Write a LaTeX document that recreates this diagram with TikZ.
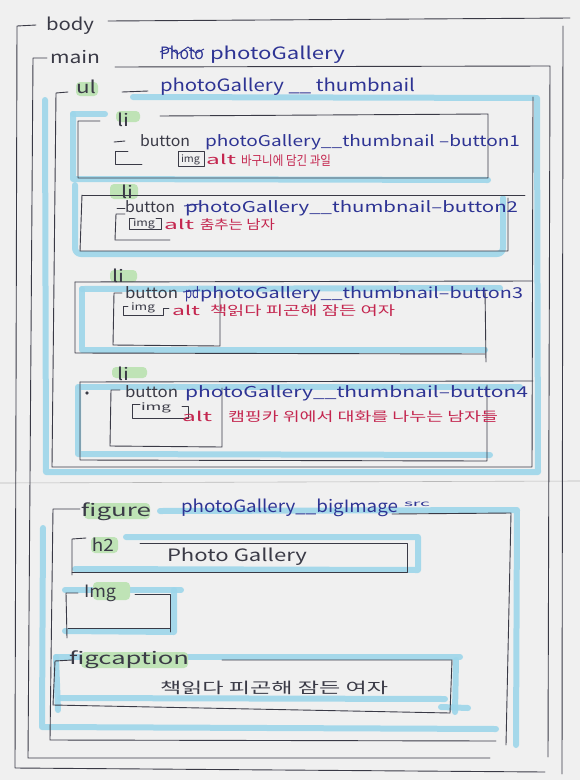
\documentclass[tikz,border=0pt]{standalone}
\usepackage{fontspec}
\setmainfont{Noto Sans CJK KR}
\usepackage{graphicx}
\definecolor{paper}{HTML}{F0F0F0}
\definecolor{pen}{HTML}{3A3A46}
\definecolor{ink}{HTML}{2E3494}
\definecolor{redink}{HTML}{C4264F}
\definecolor{marker}{HTML}{9DD6EA}
\definecolor{greenmark}{HTML}{BFE3B6}
% set a text to a given width, keeping its natural height
\newcommand\fitw[2]{\resizebox{#1pt}{\height}{#2}}
\begin{document}
\begin{tikzpicture}[x=1pt,y=-1pt,
  pen/.style={draw=pen, line width=0.9pt, line join=round, line cap=round},
  hl/.style={draw=marker, line width=6pt, line cap=round, line join=round, opacity=0.9},
  gm/.style={fill=greenmark, rounded corners=4pt, draw=none},
  txt/.style={anchor=base west, inner sep=0pt, outer sep=0pt},
  tag/.style={txt, text=pen, font=\fontsize{17}{17}\selectfont},
  btn/.style={txt, text=pen, font=\fontsize{15}{15}\selectfont},
  cls/.style={txt, text=ink, font=\fontsize{17}{17}\selectfont},
  bcls/.style={txt, text=ink, font=\fontsize{15}{15}\selectfont},
  alt/.style={txt, text=redink, font=\fontsize{13}{13}\selectfont},
  imgtag/.style={txt, text=pen, font=\fontsize{10}{10}\selectfont},
]
\fill[paper] (0,0) rectangle (580,780);
\useasboundingbox (0,0) rectangle (580,780);
% seam between the two sheets
\draw[gray!55, line width=0.6pt] (0,483) -- (580,481);

% ---------- marker strokes ----------
% ul
\draw[hl] (133,97) -- (537,98) -- (538,472) -- (46,472) -- (45,100);
% li 1
\draw[hl] (73,114) -- (105,114);
\draw[hl] (73,114) -- (73,179) -- (488,180);
% li 2
\draw[hl, rounded corners=6pt] (75,185) -- (75,254) -- (503,254) -- (503,198);
% li 3
\draw[hl] (82,289) -- (500,288);
\draw[hl] (82,289) -- (82,350) -- (485,350);
% li 4
\draw[hl] (80,387) -- (520,387);
\draw[hl] (78,387) -- (78,454) -- (490,455);
% figure
\draw[hl] (160,511) -- (517,510) -- (516,745);
\draw[hl] (43,528) -- (42,727) -- (496,729);
% h2
\draw[hl] (126,537) -- (418,537) -- (418,570) -- (75,569);
% img
\draw[hl] (65,590) -- (181,590);
\draw[hl] (174,590) -- (174,632) -- (65,631);
% figcaption
\draw[hl] (56,657) -- (460,657);
\draw[hl] (56,657) -- (58,710);
\draw[hl] (60,698) -- (445,699);
\draw[hl] (441,707) -- (468,708);
\draw[hl] (456,660) -- (455,712);

% ---------- green highlights ----------
\fill[gm] (76,82) rectangle (98,96);
\fill[gm] (116,111) rectangle (140,122);
\fill[gm] (110,184) rectangle (138,199);
\fill[gm] (110,270) rectangle (137,282);
\fill[gm] (112,367) rectangle (147,378);
\fill[gm] (84,503) rectangle (150,519);
\fill[gm] (91,537) rectangle (118,553);
\fill[gm] (93,582) rectangle (130,600);
\fill[gm] (81,652) rectangle (188,668);

% ---------- pen lines ----------
% body
\draw[pen] (36,25) -- (17,26) -- (15,768) -- (545,772);
\draw[pen] (108,21) -- (570,18);
\draw[pen] (563,26) -- (562,774);
% main
\draw[pen] (47,58) -- (33,58) -- (28,758) -- (490,758);
\draw[pen] (115,67) -- (550,66) -- (548,757);
% ul
\draw[pen] (68,92) -- (56,93) -- (52,467) -- (532,467) -- (533,97);
\draw[pen] (122,92) -- (148,91);
% li 1
\draw[pen] (160,116) -- (488,114) -- (488,178) -- (78,178) -- (78,121) -- (100,121);
\draw[pen] (114,142) -- (125,141);
\draw[pen] (128,151) -- (115,151) -- (115,164) -- (142,164);
\draw[pen] (178,151) rectangle (204,166);
% li 2
\draw[pen] (82,195) -- (525,195);
\draw[pen] (82,195) -- (80,251) -- (508,251) -- (508,198);
\draw[pen] (117,208) -- (125,208);
\draw[pen] (125,214) -- (116,214) -- (115,240) -- (170,240);
\draw[pen] (134,218) -- (129,218) -- (129,229) -- (161,229) -- (161,218) -- (156,218);
% li 3
\draw[pen] (75,282) -- (533,281);
\draw[pen] (75,282) -- (75,353) -- (485,354);
\draw[pen] (485,290) -- (486,362);
\draw[pen] (122,293) -- (114,293) -- (113,345) -- (220,346) -- (220,292);
\draw[pen] (128,306) -- (123,306) -- (123,315) -- (163,315) -- (163,308) -- (169,308);
% li 4
\draw[pen] (80,382) -- (533,381);
\draw[pen] (80,382) -- (80,460) -- (487,461) -- (487,385);
\fill[pen] (87,393) circle (1.2);
\draw[pen] (120,390) -- (111,390) -- (110,446) -- (222,447) -- (222,388);
\draw[pen] (140,404) -- (132,404) -- (132,418) -- (188,418) -- (188,406) -- (182,406);
% figure
\draw[pen] (80,509) -- (53,509) -- (50,740) -- (496,741);
\draw[pen] (392,514) -- (511,513) -- (506,745);
% h2
\draw[pen] (86,538) -- (72,539) -- (72,575);
\draw[pen] (140,543) -- (407,543) -- (407,572) -- (72,572);
% img
\draw[pen] (78,593) -- (66,593) -- (67,638);
\draw[pen] (135,594) -- (170,594) -- (170,632);
\draw[pen] (68,628) -- (170,628);
% figcaption
\draw[pen] (222,660) -- (452,660) -- (450,713);
\draw[pen] (72,660) -- (55,661) -- (53,705) -- (450,713);

% ---------- texts ----------
\node[tag] (tBody) at (46,30) {\fitw{48}{body}};
\node[tag] (tMain) at (50,63) {\fitw{50}{main}};
\node[cls] (tMainOld) at (160,59) {\fitw{44}{Photo}};
\node[cls] (tMainCls) at (210,59) {\fitw{135}{photoGallery}};
\node[tag] (tUl) at (76,93) {\fitw{20}{ul}};
\node[cls] (tUlCls) at (160,91) {\fitw{255}{photoGallery \_\_ thumbnail}};

\node[tag] (tLi1) at (117,126) {\fitw{12}{li}};
\node[btn] (tBtn1) at (140,146) {\fitw{50}{button}};
\node[bcls] (tBtnCls1) at (205,146) {\fitw{315}{photoGallery\_\_thumbnail --button1}};
\node[imgtag] (tImg1) at (181,162) {\fitw{19}{img}};
\node[alt] (tAlt1) at (206,164) {\fitw{30}{alt}};
\node[alt] (tKo1) at (241,165) {\fitw{90}{바구니에 담긴 과일}};

\node[tag] (tLi2) at (121,198) {\fitw{12}{li}};
\node[btn] (tBtn2) at (125,212) {\fitw{50}{button}};
\node[bcls] (tBtnCls2) at (185,212) {\fitw{333}{photoGallery\_\_thumbnail--button2}};
\node[imgtag] (tImg2) at (133,226) {\fitw{22}{img}};
\node[alt] (tAlt2) at (164,229) {\fitw{30}{alt}};
\node[alt] (tKo2) at (200,229) {\fitw{75}{춤추는 남자}};

\node[tag] (tLi3) at (112,282) {\fitw{12}{li}};
\node[btn] (tBtn3) at (125,298) {\fitw{53}{button}};
\node[bcls] (tOld3) at (185,298) {\fitw{14}{pd}};
\node[bcls] (tBtnCls3) at (200,298) {\fitw{323}{photoGallery\_\_thumbnail--button3}};
\node[imgtag] (tImg3) at (131,310) {\fitw{24}{img}};
\node[alt] (tAlt3) at (172,315) {\fitw{28}{alt}};
\node[alt] (tKo3) at (210,315) {\fitw{185}{책읽다 피곤해 잠든 여자}};

\node[tag] (tLi4) at (117,380) {\fitw{12}{li}};
\node[btn] (tBtn4) at (125,397) {\fitw{53}{button}};
\node[bcls] (tBtnCls4) at (185,397) {\fitw{343}{photoGallery\_\_thumbnail--button4}};
\node[imgtag] (tImg4) at (141,410) {\fitw{30}{img}};
\node[alt] (tAlt4) at (182,421) {\fitw{30}{alt}};
\node[alt] (tKo4) at (228,421) {\fitw{270}{캠핑카 위에서 대화를 나누는 남자들}};

\node[tag] (tFig) at (81,516) {\fitw{70}{figure}};
\node[cls] (tFigCls) at (181,512) {\fitw{217}{photoGallery\_\_bigImage}};
\node[txt, text=ink, font=\fontsize{8}{8}\selectfont] (tSrc) at (404,506) {\fitw{26}{src}};
\node[tag] (tH2) at (92,551) {\fitw{22}{h2}};
\node[tag] (tH2Txt) at (167,561) {\fitw{140}{Photo Gallery}};
\node[tag] (tImgF) at (84,597) {\fitw{32}{Img}};
\node[tag] (tCap) at (69,664) {\fitw{120}{figcaption}};
\node[txt, text=pen, font=\fontsize{15}{15}\selectfont] (tCapTxt) at (160,693) {\fitw{228}{책읽다 피곤해 잠든 여자}};

% struck-out words
\draw[ink, line width=0.9pt] (160,52) -- (170,48) -- (178,54) -- (188,47) -- (196,53) -- (204,49);
\draw[ink, line width=0.9pt] (183,292) -- (200,290);
\draw[ink, line width=0.9pt] (184,206) -- (200,204);
\end{tikzpicture}
\end{document}
